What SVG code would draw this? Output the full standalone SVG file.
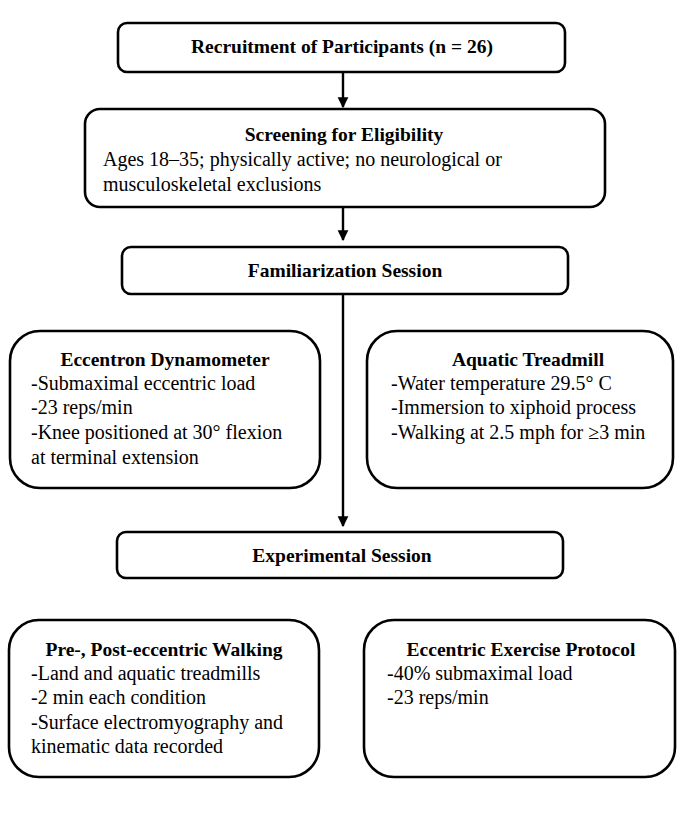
<svg xmlns="http://www.w3.org/2000/svg" width="694" height="828" viewBox="0 0 694 828">
<defs>
<style>
.box{fill:#fff;stroke:#000;stroke-width:2.6}
.t{font-family:"Liberation Serif","Times New Roman",serif;font-size:19.5px;font-weight:bold;fill:#000}
.b{font-family:"Liberation Serif","Times New Roman",serif;font-size:20px;fill:#000}
.c{text-anchor:middle}
.ln{stroke:#000;stroke-width:2.4;fill:none}
</style>
<marker id="ah" viewBox="0 0 10 10" refX="9" refY="5" markerWidth="4.5" markerHeight="5" markerUnits="strokeWidth" orient="auto">
<path d="M0,0 L10,5 L0,10 Z" fill="#000"/>
</marker>
</defs>
<rect width="694" height="828" fill="#fff"/>
<g id="connectors">
<line class="ln" x1="343" y1="72" x2="343" y2="107" marker-end="url(#ah)"/>
<line class="ln" x1="343" y1="207" x2="343" y2="240" marker-end="url(#ah)"/>
<line class="ln" x1="343" y1="294" x2="343" y2="526" marker-end="url(#ah)"/>
</g>
<g id="recruitment">
<rect class="box" x="118" y="23" width="447" height="49" rx="9"/>
<text class="t c" x="342" y="53">Recruitment of Participants (n = 26)</text>
</g>
<g id="screening">
<rect class="box" x="85" y="109" width="520" height="98" rx="15"/>
<text class="t c" x="344" y="141">Screening for Eligibility</text>
<text class="b" x="103" y="166">Ages 18–35; physically active; no neurological or</text>
<text class="b" x="103" y="191">musculoskeletal exclusions</text>
</g>
<g id="familiarization">
<rect class="box" x="122" y="247" width="446" height="47" rx="9"/>
<text class="t c" x="345" y="277">Familiarization Session</text>
</g>
<g id="eccentron">
<rect class="box" x="10" y="331" width="310" height="157" rx="30"/>
<text class="t c" x="165" y="366">Eccentron Dynamometer</text>
<text class="b" x="31" y="390">-Submaximal eccentric load</text>
<text class="b" x="31" y="414">-23 reps/min</text>
<text class="b" x="31" y="439">-Knee positioned at 30° flexion</text>
<text class="b" x="31" y="464">at terminal extension</text>
</g>
<g id="aquatic">
<rect class="box" x="367" y="331" width="306" height="157" rx="30"/>
<text class="t c" x="528" y="366">Aquatic Treadmill</text>
<text class="b" x="391" y="390">-Water temperature 29.5° C</text>
<text class="b" x="391" y="414">-Immersion to xiphoid process</text>
<text class="b" x="391" y="439">-Walking at 2.5 mph for ≥3 min</text>
</g>
<g id="experimental">
<rect class="box" x="117" y="532" width="446" height="46" rx="9"/>
<text class="t c" x="342" y="562">Experimental Session</text>
</g>
<g id="walking">
<rect class="box" x="9" y="620" width="310" height="157" rx="30"/>
<text class="t c" x="164" y="656">Pre-, Post-eccentric Walking</text>
<text class="b" x="31" y="680">-Land and aquatic treadmills</text>
<text class="b" x="31" y="704">-2 min each condition</text>
<text class="b" x="31" y="729">-Surface electromyography and</text>
<text class="b" x="31" y="753">kinematic data recorded</text>
</g>
<g id="protocol">
<rect class="box" x="364" y="620" width="311" height="157" rx="30"/>
<text class="t c" x="521" y="656">Eccentric Exercise Protocol</text>
<text class="b" x="387" y="680">-40% submaximal load</text>
<text class="b" x="387" y="704">-23 reps/min</text>
</g>
</svg>
